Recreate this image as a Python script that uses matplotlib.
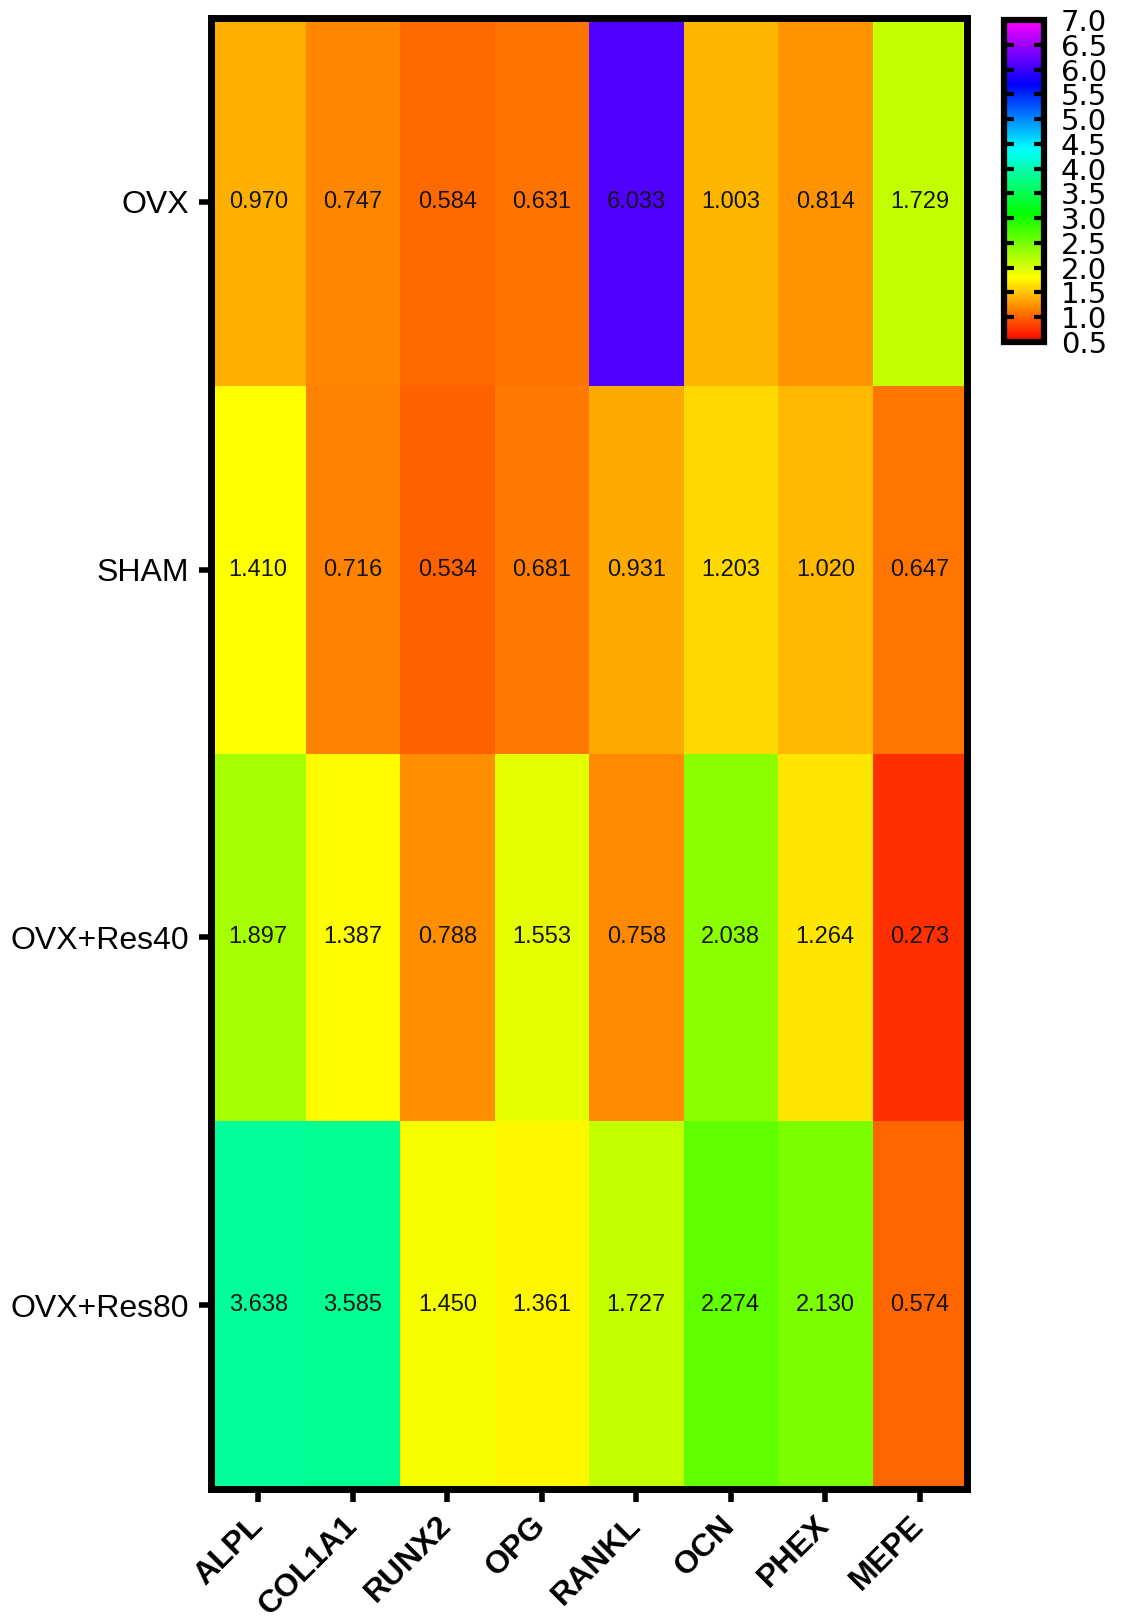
import numpy as np
import matplotlib
matplotlib.use("Agg")
import matplotlib.pyplot as plt
from matplotlib.colors import ListedColormap, Normalize, hsv_to_rgb
from matplotlib.cm import ScalarMappable

# ---- data ----
groups = ["OVX", "SHAM", "OVX+Res40", "OVX+Res80"]
genes = ["ALPL", "COL1A1", "RUNX2", "OPG", "RANKL", "OCN", "PHEX", "MEPE"]
ovx = [0.970, 0.747, 0.584, 0.631, 6.033, 1.003, 0.814, 1.729]
sham = [1.410, 0.716, 0.534, 0.681, 0.931, 1.203, 1.020, 0.647]
res40 = [1.897, 1.387, 0.788, 1.553, 0.758, 2.038, 1.264, 0.273]
res80 = [3.638, 3.585, 1.450, 1.361, 1.727, 2.274, 2.130, 0.574]
cbar_ticks = [0.5, 1.0, 1.5, 2.0, 2.5, 3.0, 3.5, 4.0, 4.5, 5.0, 5.5, 6.0, 6.5, 7.0]

data = np.array([ovx, sham, res40, res80])

plt.rcParams['font.family'] = ['Liberation Sans', 'DejaVu Sans']

# rainbow colormap: hue 0 (red) -> 300 deg (magenta)
hues = np.linspace(0, 300 / 360, 512)
hsv = np.stack([hues, np.ones_like(hues), np.ones_like(hues)], axis=1)
cmap = ListedColormap(hsv_to_rgb(hsv))

fig = plt.figure(figsize=(11.21, 16.21), dpi=100)
ax = fig.add_axes([211 / 1121, 1 - 1489 / 1621, 756 / 1121, 1471 / 1621])

ax.pcolormesh(np.arange(len(genes) + 1), np.arange(len(groups) + 1), data,
              cmap=cmap, norm=Normalize(0, 7), shading='flat')
ax.set_xlim(0, len(genes))
ax.set_ylim(len(groups), 0)

for i in range(len(groups)):
    for j in range(len(genes)):
        ax.text(j + 0.5, i + 0.5, f"{data[i, j]:.3f}", ha='center', va='center',
                fontsize=17, color='#151515')

ax.set_xticks(np.arange(len(genes)) + 0.5)
ax.set_xticklabels(genes, rotation=45, ha='right', va='center',
                   rotation_mode='anchor', fontsize=23, fontweight='bold')
ax.set_yticks(np.arange(len(groups)) + 0.5)
ax.set_yticklabels(groups, fontsize=23)
ax.tick_params(axis='x', length=9, width=4, pad=14)
ax.tick_params(axis='y', length=9, width=4, pad=7)
for s in ax.spines.values():
    s.set_linewidth(5)

# colorbar
cax = fig.add_axes([1004 / 1121, 1 - 342 / 1621, 40 / 1121, 322 / 1621])
sm = ScalarMappable(norm=Normalize(0.5, 7), cmap=cmap)
cb = fig.colorbar(sm, cax=cax, ticks=cbar_ticks)
cb.outline.set_linewidth(4.5)
cax.tick_params(axis='y', which='both', direction='in', length=7, width=3,
                left=True, right=True, pad=12, labelsize=21)
cax.set_yticklabels([f"{t:.1f}" for t in cbar_ticks], family='DejaVu Sans')

fig.savefig("out.png", dpi=100)
